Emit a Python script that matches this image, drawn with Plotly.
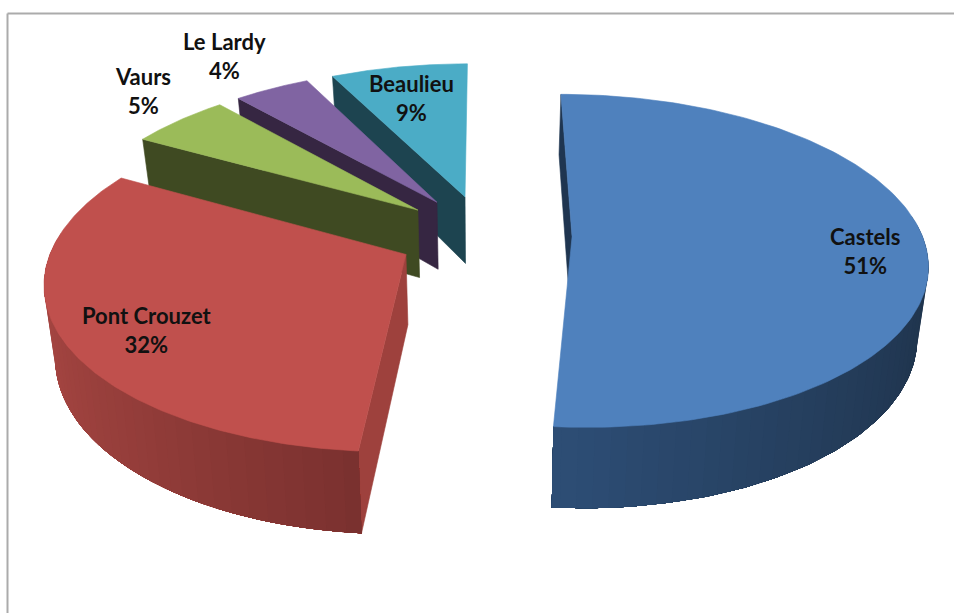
import numpy as np
import plotly.graph_objects as go

# ---- data ----
categories = ["Castels", "Pont Crouzet", "Vaurs", "Le Lardy", "Beaulieu"]
shares = [51.3, 31.8, 5.4, 4.1, 7.4]          # slice sizes as drawn
pct_labels = ["51%", "32%", "5%", "4%", "9%"]  # percentages as printed

# ---- style ----
top_colors = ["#4F81BD", "#C0504D", "#9BBB59", "#8064A2", "#4BACC6"]
cut_colors = ["#1F3550", "#9E413D", "#3F4A22", "#362642", "#1D4450"]
wall_gradients = [((31, 51, 75), (45, 77, 116)),
                  ((168, 71, 67), (118, 47, 45)),
                  ((63, 74, 34), (63, 74, 34)),
                  ((54, 38, 66), (54, 38, 66)),
                  ((29, 68, 80), (29, 68, 80))]
label_xy = [(865, 250.5), (147, 329.5), (143, 90.5), (224, 55.5), (411, 97.5)]
FONT = dict(family="Lato", size=22, color="#111111", weight=700)

# ---- projection of the tilted, exploded pie ----
CX, CY, RX, RY, PERSP, DEPTH, SHRINK, EXPLODE = 484.5, 235, 350, 162.5, 0.145, 69, 0.025, 0.25


def project(u, v, z=0.0):
    w = 1 + PERSP * v
    s = 1 - SHRINK * z
    return CX + RX * u / w * s, CY - RY * v / w + z * DEPTH / w


def poly(fig, xs, ys, color, edge=0.6):
    fig.add_trace(go.Scatter(
        x=list(xs) + [xs[0]], y=list(ys) + [ys[0]], mode="lines", fill="toself",
        fillcolor=color, line=dict(color=color, width=edge),
        hoverinfo="skip", showlegend=False))


fig = go.Figure()
edges = np.concatenate([[0], np.cumsum(shares)]) / np.sum(shares) * 2 * np.pi
BANDS = 40

for i in reversed(range(len(shares))):       # back slices first
    a0, a1 = edges[i], edges[i + 1]
    mid = (a0 + a1) / 2
    ou, ov = EXPLODE * np.sin(mid), EXPLODE * np.cos(mid)
    t = np.linspace(a0, a1, 160)
    au, av = ou + np.sin(t), ov + np.cos(t)

    # cut face along the starting radius
    su, sv = ou + np.sin(a0), ov + np.cos(a0)
    p = [project(su, sv), project(ou, ov), project(ou, ov, 1), project(su, sv, 1)]
    poly(fig, [q[0] for q in p], [q[1] for q in p], cut_colors[i])

    # rounded outer wall: each band repainted from its start to the end of the arc
    vis = np.where(np.cos(t) < 0.14)[0]
    if len(vis) > 1 and i < 2:
        c_a, c_b = wall_gradients[i]
        order = np.array_split(vis, BANDS)
        if i == 1:
            order = order[::-1]
        for chunk in order:
            j0, j1 = (chunk[0], vis[-1]) if i == 0 else (vis[0], chunk[-1])
            amid = t[chunk].mean()
            f = (amid - np.pi / 2) / (np.pi / 2) if i == 0 else (1.5 * np.pi - amid) / (np.pi / 2)
            f = float(np.clip(f, 0, 1)) ** 1.5
            col = "rgb(%d,%d,%d)" % tuple(int(c_a[k] + (c_b[k] - c_a[k]) * f) for k in range(3))
            rng = np.arange(j0, j1 + 1)
            x1, y1 = project(au[rng], av[rng])
            x2, y2 = project(au[rng][::-1], av[rng][::-1], 1)
            poly(fig, np.r_[x1, x2], np.r_[y1, y2], col, edge=0)

    # top surface
    tx, ty = project(np.r_[ou, au], np.r_[ov, av])
    poly(fig, tx, ty, top_colors[i])

for name, pct, (lx, ly) in zip(categories, pct_labels, label_xy):
    fig.add_annotation(x=lx, y=ly, text=f"{name}<br>{pct}", showarrow=False,
                       font=FONT, align="center", xanchor="center", yanchor="middle")

fig.update_layout(
    width=954, height=613, margin=dict(l=0, r=0, t=0, b=0),
    paper_bgcolor="white", plot_bgcolor="white", showlegend=False,
    xaxis=dict(range=[0, 954], visible=False, fixedrange=True),
    yaxis=dict(range=[613, 0], visible=False, fixedrange=True),
    shapes=[dict(type="line", xref="x", yref="y", x0=7.5, x1=954, y0=13.5, y1=13.5,
                 line=dict(color="#ABABAB", width=2)),
            dict(type="line", xref="x", yref="y", x0=7.5, x1=7.5, y0=13.5, y1=613,
                 line=dict(color="#ABABAB", width=2))],
)
fig.write_html("out.html", config={"displayModeBar": False},
               post_script="document.body.style.margin='0';document.body.style.overflow='hidden';")
